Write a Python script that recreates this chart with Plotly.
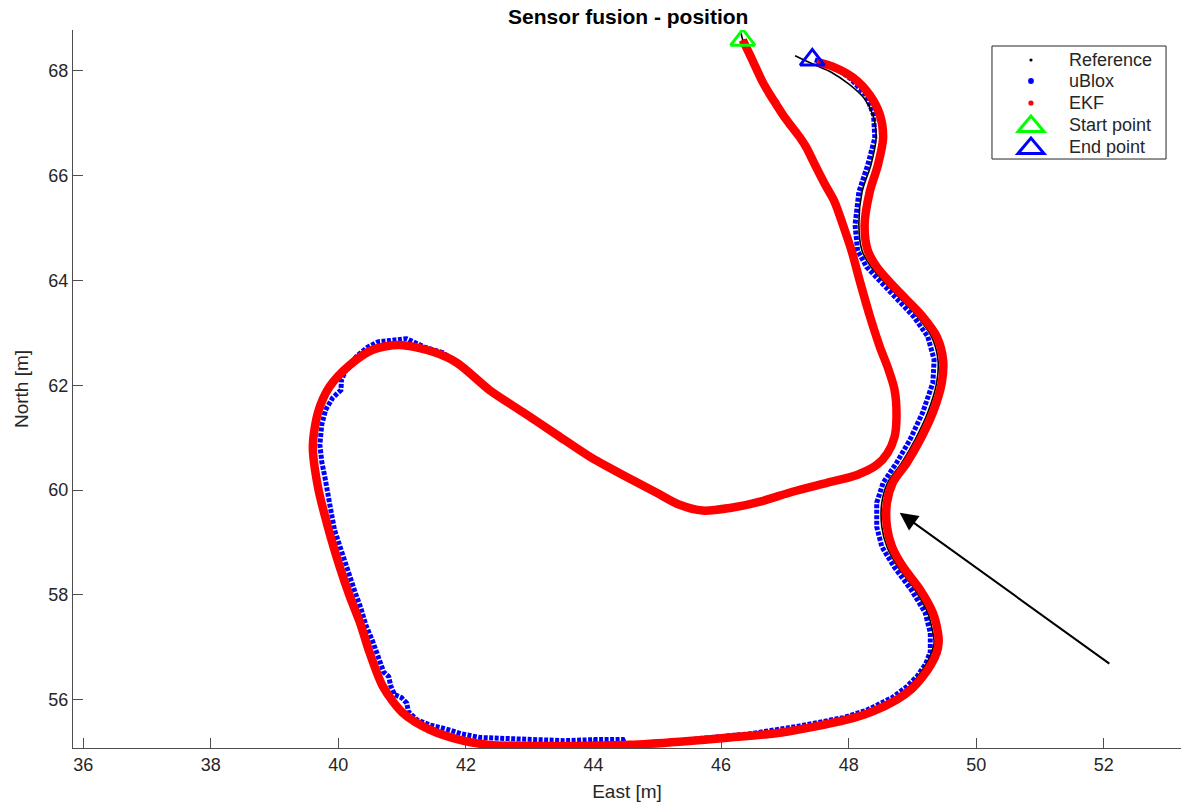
import plotly.graph_objects as go

# ---------------- data (East / North in metres) ----------------
# shared outbound part of the trajectory (start -> bottom)
out_east = [46.34, 46.45, 46.56, 46.65, 46.76, 46.87, 46.98, 47.11, 47.23, 47.34,
            47.47, 47.63, 47.78, 47.91, 48.05, 48.17, 48.33, 48.49, 48.61, 48.72,
            48.75, 48.72, 48.61, 48.44, 48.13, 47.66, 47.12, 46.61, 46.14, 45.71,
            45.35, 44.99, 44.46, 43.94, 43.42, 42.89, 42.37, 41.86, 41.48, 40.96,
            40.54, 40.18, 39.86, 39.68, 39.60, 39.68, 39.86, 40.02, 40.18, 40.34,
            40.49, 40.70, 41.01, 41.43, 41.95, 42.37, 43.00, 43.78, 44.57, 45.35,
            46.14, 46.92]
out_north = [68.59, 68.31, 68.02, 67.79, 67.56, 67.35, 67.14, 66.93, 66.74, 66.53,
             66.21, 65.83, 65.50, 65.06, 64.55, 64.01, 63.33, 62.73, 62.35, 61.91,
             61.40, 61.02, 60.71, 60.48, 60.29, 60.14, 59.97, 59.78, 59.66, 59.61,
             59.72, 59.95, 60.29, 60.64, 61.06, 61.49, 61.91, 62.43, 62.64, 62.77,
             62.68, 62.39, 61.97, 61.48, 60.83, 60.06, 59.19, 58.54, 57.97, 57.47,
             56.90, 56.25, 55.75, 55.43, 55.22, 55.14, 55.12, 55.12, 55.14, 55.20,
             55.28, 55.37]

# reference: return part
ref_ret_east = [47.89, 48.28, 48.68, 48.91, 49.08, 49.21, 49.30, 49.34, 49.32, 49.24,
                49.04, 48.77, 48.60, 48.52, 48.52, 48.61, 48.83, 49.04, 49.24, 49.38,
                49.40, 49.30, 49.08, 48.83, 48.57, 48.35, 48.21, 48.16, 48.21, 48.35,
                48.43, 48.38, 48.24, 48.00, 47.72, 47.44, 47.16]
ref_ret_north = [55.62, 55.77, 56.00, 56.21, 56.44, 56.67, 56.90, 57.09, 57.28, 57.66,
                 58.10, 58.54, 58.92, 59.30, 59.76, 60.14, 60.52, 60.96, 61.48, 62.05,
                 62.49, 62.93, 63.31, 63.63, 63.96, 64.26, 64.57, 65.06, 65.69, 66.21,
                 66.72, 67.16, 67.48, 67.75, 67.98, 68.13, 68.29]
ref_start_east = [46.31]
ref_start_north = [68.74]

# EKF: return part
ekf_ret_east = [47.97, 48.36, 48.75, 48.99, 49.16, 49.29, 49.38, 49.41, 49.40, 49.32,
                49.12, 48.85, 48.68, 48.60, 48.60, 48.69, 48.91, 49.12, 49.32, 49.46,
                49.48, 49.38, 49.16, 48.91, 48.65, 48.44, 48.30, 48.25, 48.33, 48.46,
                48.54, 48.49, 48.33, 48.07, 47.75, 47.50]
ekf_ret_north = [55.62, 55.77, 56.00, 56.21, 56.44, 56.67, 56.90, 57.09, 57.28, 57.66,
                 58.10, 58.54, 58.92, 59.30, 59.76, 60.14, 60.52, 60.96, 61.48, 62.05,
                 62.49, 62.93, 63.31, 63.63, 63.96, 64.26, 64.57, 65.06, 65.69, 66.21,
                 66.72, 67.16, 67.54, 67.87, 68.08, 68.17]

# uBlox GNSS fixes
ublox_east = [46.34, 46.45, 46.56, 46.65, 46.76, 46.87, 46.98, 47.11, 47.23, 47.34,
              47.47, 47.63, 47.78, 47.91, 48.05, 48.17, 48.33, 48.49, 48.61, 48.72,
              48.75, 48.72, 48.61, 48.44, 48.13, 47.66, 47.12, 46.61, 46.14, 45.71,
              45.35, 44.99, 44.46, 43.94, 43.42, 42.89,
              42.37, 41.90, 41.64, 41.35, 41.07, 40.85, 40.62, 40.46, 40.29, 40.15,
              40.05, 40.04, 39.91, 39.80, 39.74, 39.71, 39.74, 39.79, 39.83, 39.88,
              39.94, 40.04, 40.13, 40.26, 40.35, 40.43, 40.54, 40.63, 40.71, 40.79,
              40.82, 40.88, 40.99, 41.07, 41.10, 41.23, 41.43, 41.67, 41.93, 42.22,
              42.61, 43.08, 43.55, 44.02, 44.46, 44.52, 45.04, 45.67, 46.45, 47.23,
              47.92,
              48.28, 48.68, 48.91, 49.08, 49.21, 49.28, 49.28, 49.20, 48.98, 48.71,
              48.52, 48.44, 48.44, 48.54, 48.75, 48.96, 49.16, 49.32, 49.34, 49.24,
              49.02, 48.77, 48.50, 48.28, 48.14, 48.10, 48.16, 48.30, 48.41, 48.39,
              48.27, 48.03, 47.75, 47.47]
ublox_north = [68.59, 68.31, 68.02, 67.79, 67.56, 67.35, 67.14, 66.93, 66.74, 66.53,
               66.21, 65.83, 65.50, 65.06, 64.55, 64.01, 63.33, 62.73, 62.35, 61.91,
               61.40, 61.02, 60.71, 60.48, 60.29, 60.14, 59.97, 59.78, 59.66, 59.61,
               59.72, 59.95, 60.29, 60.64, 61.06, 61.49,
               61.88, 62.41, 62.62, 62.73, 62.89, 62.87, 62.83, 62.73, 62.56, 62.37,
               62.11, 61.91, 61.76, 61.53, 61.25, 60.87, 60.54, 60.24, 59.91, 59.63,
               59.24, 58.86, 58.48, 58.06, 57.76, 57.43, 57.11, 56.80, 56.53, 56.44,
               56.27, 56.10, 56.04, 55.94, 55.77, 55.62, 55.52, 55.45, 55.35, 55.28,
               55.26, 55.24, 55.22, 55.24, 55.24, 55.10, 55.16, 55.26, 55.35, 55.50,
               55.66,
               55.80, 56.04, 56.25, 56.46, 56.69, 56.92, 57.28, 57.66, 58.10, 58.54,
               58.92, 59.30, 59.76, 60.14, 60.52, 60.96, 61.48, 62.05, 62.49, 62.93,
               63.31, 63.63, 63.96, 64.26, 64.57, 65.06, 65.69, 66.21, 66.72, 67.16,
               67.54, 67.85, 68.10, 68.21]

start_point = (46.34, 68.59)
end_point = (47.43, 68.21)
arrow_head = (48.80, 59.57)
arrow_tail = (52.11, 56.67)

x_ticks = [36, 38, 40, 42, 44, 46, 48, 50, 52]
y_ticks = [56, 58, 60, 62, 64, 66, 68]
x_range = [35.84, 53.21]
y_range = [55.08, 68.78]

legend_names = ["Reference", "uBlox", "EKF", "Start point", "End point"]
legend_colors = ["black", "#0000ff", "#ff0000", "#00ff00", "#0000ff"]

ref_east = ref_start_east + out_east + ref_ret_east
ref_north = ref_start_north + out_north + ref_ret_north
ekf_east = out_east + ekf_ret_east
ekf_north = out_north + ekf_ret_north

FONT = "Liberation Sans, Arial, Helvetica, sans-serif"
AX = "#4d4d4d"
TXT = "#262626"

fig = go.Figure()

fig.add_trace(go.Scatter(x=ublox_east, y=ublox_north, mode="lines", name="uBlox",
                         line=dict(color="#0000ff", width=5, dash="4px,1.5px"),
                         showlegend=False, hoverinfo="skip"))
fig.add_trace(go.Scatter(x=ref_east, y=ref_north, mode="lines", name="Reference",
                         line=dict(color="black", width=1.6, shape="spline", smoothing=0.8),
                         showlegend=False, hoverinfo="skip"))
fig.add_trace(go.Scatter(x=ekf_east, y=ekf_north, mode="lines", name="EKF",
                         line=dict(color="#ff0000", width=8.5, shape="spline", smoothing=0.8),
                         showlegend=False, hoverinfo="skip"))
fig.add_trace(go.Scatter(x=[start_point[0]], y=[start_point[1]], mode="markers",
                         name="Start point", showlegend=False,
                         marker=dict(symbol="triangle-up-open", size=21,
                                     color="#00ff00", line=dict(color="#00ff00", width=3))))
fig.add_trace(go.Scatter(x=[end_point[0]], y=[end_point[1]], mode="markers",
                         name="End point", showlegend=False,
                         marker=dict(symbol="triangle-up-open", size=21,
                                     color="#0000ff", line=dict(color="#0000ff", width=3))))

fig.add_annotation(x=arrow_head[0], y=arrow_head[1], ax=arrow_tail[0], ay=arrow_tail[1],
                   xref="x", yref="y", axref="x", ayref="y", text="",
                   showarrow=True, arrowhead=2, arrowsize=1.8, arrowwidth=2,
                   arrowcolor="black", standoff=0)

# ---- MATLAB-style legend box drawn in paper space ----
box = dict(x0=0.8294, x1=0.9865, y0=0.8203, y1=0.9777)
row_y = [0.9582, 0.9290, 0.8983, 0.8677, 0.8370]
sym_x = 0.8646
txt_x = 0.8975
fig.add_shape(type="rect", xref="paper", yref="paper", **box,
              line=dict(color=TXT, width=1), fillcolor="white", layer="above")
dot_r = [1.6, 2.9, 2.6]
for i in range(3):
    r = dot_r[i]
    fig.add_shape(type="circle", xref="paper", yref="paper",
                  xsizemode="pixel", ysizemode="pixel",
                  xanchor=sym_x, yanchor=row_y[i], x0=-r, x1=r, y0=-r, y1=r,
                  fillcolor=legend_colors[i], line=dict(width=0), layer="above")
for i in range(3, 5):
    fig.add_shape(type="path", xref="paper", yref="paper",
                  xsizemode="pixel", ysizemode="pixel",
                  xanchor=sym_x, yanchor=row_y[i],
                  path="M-13,-6.5 L13,-6.5 L0,9 Z",
                  line=dict(color=legend_colors[i], width=3), layer="above")
for i, name in enumerate(legend_names):
    fig.add_annotation(x=txt_x, y=row_y[i], xref="paper", yref="paper",
                       text=name, showarrow=False, xanchor="left", yanchor="middle",
                       font=dict(family=FONT, size=18, color=TXT))

fig.update_layout(
    width=1181, height=808,
    margin=dict(l=73, r=0, t=30, b=60),
    paper_bgcolor="white", plot_bgcolor="white",
    font=dict(family=FONT, color=TXT, size=18),
    title=dict(text="<b>Sensor fusion - position</b>", x=0.532, xanchor="center",
               y=0.979, yanchor="middle",
               font=dict(family=FONT, size=21, color="black")),
    showlegend=False,
    xaxis=dict(range=x_range, tickvals=x_ticks, ticktext=[str(v) for v in x_ticks],
               showgrid=False, zeroline=False, showline=True, linecolor=AX, linewidth=1,
               ticks="inside", ticklen=10, tickcolor=AX, tickwidth=1,
               tickfont=dict(family=FONT, size=18, color=TXT),
               title=dict(text="East [m]", font=dict(family=FONT, size=19, color=TXT), standoff=11)),
    yaxis=dict(range=y_range, tickvals=y_ticks, ticktext=[str(v) for v in y_ticks],
               showgrid=False, zeroline=False, showline=True, linecolor=AX, linewidth=1,
               ticks="inside", ticklen=10, tickcolor=AX, tickwidth=1,
               tickfont=dict(family=FONT, size=18, color=TXT),
               title=dict(text="North [m]", font=dict(family=FONT, size=19, color=TXT), standoff=14)),
)

fig.write_html("out.html", config={"displayModeBar": False},
               post_script="document.body.style.margin='0';")
